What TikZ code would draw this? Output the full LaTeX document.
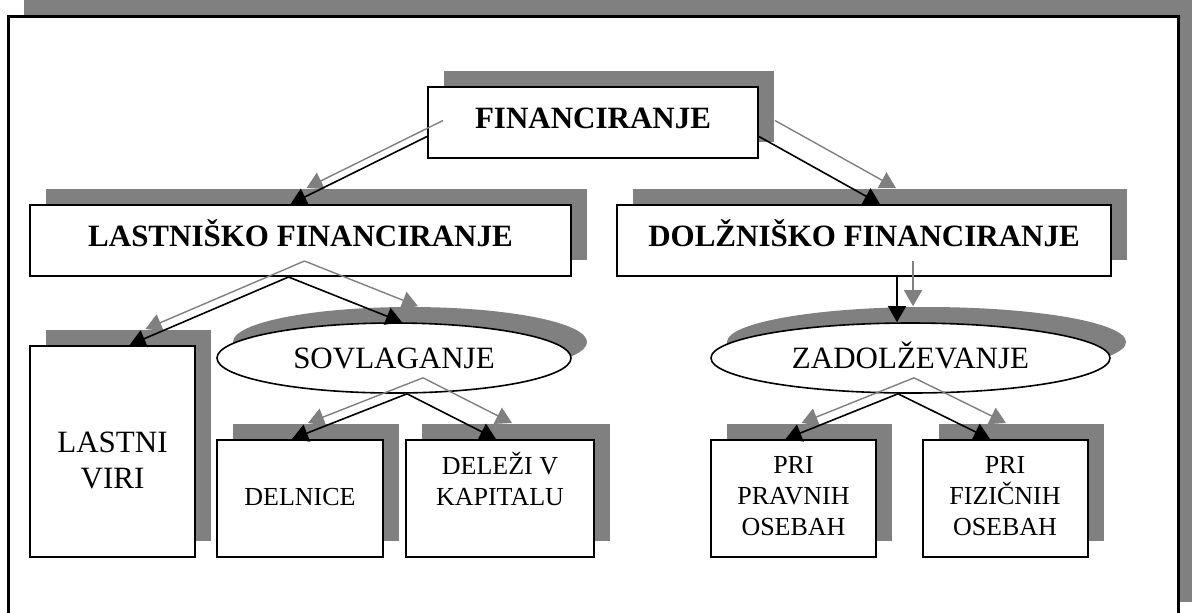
\documentclass[tikz,border=0pt]{standalone}
\usepackage{fontspec}
\setmainfont{Liberation Serif}
\usetikzlibrary{arrows.meta,shapes.geometric,shadows}
\definecolor{shadowgray}{HTML}{808080}

\begin{document}
\begin{tikzpicture}[x=0.5pt,y=-0.5pt,
  boxshadow/.style={general shadow={fill=shadowgray,shadow xshift=8pt,shadow yshift=8pt}},
  bigbox/.style={draw,line width=1pt,fill=white,inner sep=0pt,boxshadow,minimum height=35.5pt,font=\fontsize{15.5}{18}\selectfont\bfseries,text height=10.5pt,text depth=5pt},
  smallbox/.style={draw,line width=1pt,fill=white,inner sep=0pt,boxshadow,align=center,minimum width=82.5pt,minimum height=58.5pt,font=\fontsize{13}{15.5}\selectfont},
  oval/.style={draw,ellipse,line width=0.8pt,fill=white,inner sep=0pt,boxshadow,minimum height=35pt,font=\fontsize{15.5}{18}\selectfont,text height=10pt,text depth=0pt},
  blk/.style={draw=black,line width=0.8pt,-{Triangle[length=8pt,width=9pt]}},
  shd/.style={draw=shadowgray,line width=0.7pt,-{Triangle[length=8pt,width=9pt]}}]
\clip (0,0) rectangle (1192,612);
\fill[shadowgray] (24,0) rectangle (1194,602);
\draw[line width=1.5pt,fill=white] (8,16) rectangle (1178,620);

\node[bigbox,minimum width=165pt] (fin) at (593,122.5) {FINANCIRANJE};
\node[bigbox,minimum width=270.5pt] (las) at (300.5,240.5) {LASTNIŠKO FINANCIRANJE};
\node[bigbox,minimum width=247pt] (dol) at (864,240.5) {DOLŽNIŠKO FINANCIRANJE};

\node[smallbox,minimum height=105.5pt,font=\fontsize{15.5}{18}\selectfont,text height=36.5pt,text depth=0pt] (viri) at (112.5,451.5) {LASTNI\\VIRI};
\node[oval,minimum width=177pt] (sov) at (394,358) {SOVLAGANJE};
\node[oval,minimum width=199.5pt] (zad) at (910.5,358) {ZADOLŽEVANJE};

\node[smallbox,minimum width=83pt,text height=8.6pt,text depth=2.1pt] (deln) at (300,498.5) {DELNICE};
\node[smallbox,minimum width=94pt,text height=24.1pt,text depth=17.6pt] (dele) at (500,498.5) {DELEŽI V\\KAPITALU};
\node[smallbox,text height=39.6pt,text depth=3.1pt] (prav) at (793.5,498.5) {PRI\\PRAVNIH\\OSEBAH};
\node[smallbox,text height=39.6pt,text depth=3.1pt] (fiz) at (1005,498.5) {PRI\\FIZIČNIH\\OSEBAH};

\draw[shd] ([shift={(16,-2)}]fin.west) -- ([shift={(6,-16)}]las.north);
\draw[shd] ([shift={(16,-2)}]fin.east) -- ([shift={(32,-16)}]dol.north);
\draw[shd] ([shift={(4,-16)}]las.south) -- ([shift={(33,-16)}]viri.north);
\draw[shd] ([shift={(4,-16)}]las.south) -- ([shift={(24,-16)}]sov.north);
\draw[shd] ([shift={(29,-16)}]sov.south) -- ([shift={(8,-16)}]deln.north);
\draw[shd] ([shift={(29,-16)}]sov.south) -- ([shift={(12,-16)}]dele.north);
\draw[shd] ([shift={(49,-16)}]dol.south) -- ([shift={(2.5,-16)}]zad.north);
\draw[shd] ([shift={(3.5,-16)}]zad.south) -- ([shift={(8,-16)}]prav.north);
\draw[shd] ([shift={(3.5,-16)}]zad.south) -- ([shift={(1,-16)}]fiz.north);

\draw[blk] ([shift={(0,14)}]fin.west) -- ([shift={(-10,0)}]las.north);
\draw[blk] ([shift={(0,14)}]fin.east) -- ([shift={(16,0)}]dol.north);
\draw[blk] ([shift={(-12,0)}]las.south) -- ([shift={(17,0)}]viri.north);
\draw[blk] ([shift={(-12,0)}]las.south) -- ([shift={(8,0)}]sov.north);
\draw[blk] ([shift={(13,0)}]sov.south) -- ([shift={(-8,0)}]deln.north);
\draw[blk] ([shift={(13,0)}]sov.south) -- ([shift={(-4,0)}]dele.north);
\draw[blk] ([shift={(33,0)}]dol.south) -- ([shift={(-13.5,0)}]zad.north);
\draw[blk] ([shift={(-12.5,0)}]zad.south) -- ([shift={(-8,0)}]prav.north);
\draw[blk] ([shift={(-12.5,0)}]zad.south) -- ([shift={(-15,0)}]fiz.north);
\end{tikzpicture}
\end{document}
